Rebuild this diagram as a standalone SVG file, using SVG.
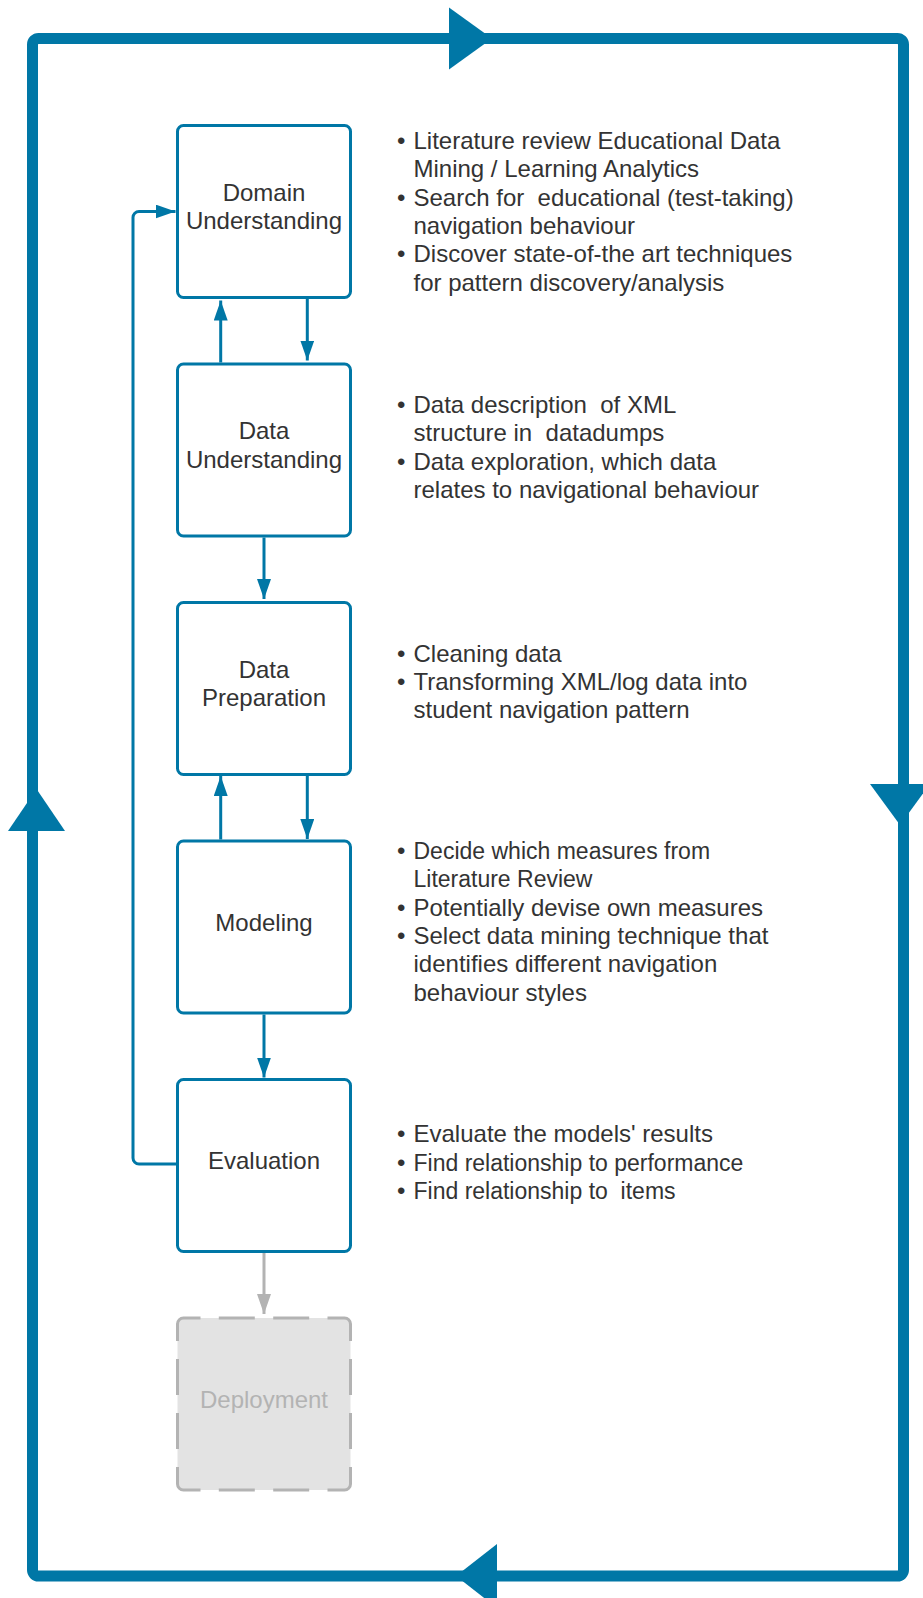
<svg xmlns="http://www.w3.org/2000/svg" width="923" height="1598" viewBox="0 0 923 1598">
<defs>
<style>
.frame{fill:none;stroke:#0077a6;stroke-width:11;}
.big{fill:#0077a6;}
.box{fill:#ffffff;stroke:#0077a6;stroke-width:3;}
.lbl{font-family:"Liberation Sans",Arial,sans-serif;font-size:24px;fill:#333333;text-anchor:middle;}
.bul{font-family:"Liberation Sans",Arial,sans-serif;font-size:24px;fill:#333333;}
.sm{font-size:23px;}
.con{fill:none;stroke:#0077a6;stroke-width:3;}
.gcon{fill:none;stroke:#b3b3b3;stroke-width:3;}
.dep{fill:#e3e3e3;stroke:none;}
.dash{fill:none;stroke:#b3b3b3;stroke-width:3;}
.dlbl{font-family:"Liberation Sans",Arial,sans-serif;font-size:24px;fill:#b3b3b3;text-anchor:middle;}
</style>
<marker id="ah" markerUnits="userSpaceOnUse" markerWidth="20" markerHeight="14" refX="20" refY="7" orient="auto">
<path d="M0,0 L20,7 L0,14 z" fill="#0077a6"/>
</marker>
<marker id="ahg" markerUnits="userSpaceOnUse" markerWidth="20" markerHeight="14" refX="20" refY="7" orient="auto">
<path d="M0,0 L20,7 L0,14 z" fill="#b3b3b3"/>
</marker>
</defs>
<rect width="923" height="1598" fill="#ffffff"/>

<g id="cycle">
<rect class="frame" x="32.5" y="38.5" width="871" height="1537.5" rx="6"/>
<polygon class="big" points="449,7.5 492,38.5 449,69.5"/>
<polygon class="big" points="870,784 930,784 900,825"/>
<polygon class="big" points="497,1544 456,1576 497,1608"/>
<polygon class="big" points="8,831 65,831 36.5,789"/>
</g>

<g id="connectors">
<path class="con" d="M307.3,299 V360.5" marker-end="url(#ah)"/>
<path class="con" d="M220.7,362.5 V300.5" marker-end="url(#ah)"/>
<path class="con" d="M264,537.5 V599" marker-end="url(#ah)"/>
<path class="con" d="M307.3,776 V839" marker-end="url(#ah)"/>
<path class="con" d="M220.7,839.5 V776" marker-end="url(#ah)"/>
<path class="con" d="M264,1014.5 V1077.5" marker-end="url(#ah)"/>
<path class="gcon" d="M264,1253 V1314" marker-end="url(#ahg)"/>
<path class="con" d="M176,1164 H139 A6,6 0 0 1 133,1158 V217.5 A6,6 0 0 1 139,211.5 H175.5" marker-end="url(#ah)"/>
</g>

<g id="domain">
<rect class="box" x="177.5" y="125.5" width="173" height="172" rx="6"/>
<text class="lbl" x="264" y="200.5">Domain</text>
<text class="lbl" x="264" y="229">Understanding</text>
</g>
<g id="data-understanding">
<rect class="box" x="177.5" y="364" width="173" height="172" rx="6"/>
<text class="lbl" x="264" y="439">Data</text>
<text class="lbl" x="264" y="467.5">Understanding</text>
</g>
<g id="data-preparation">
<rect class="box" x="177.5" y="602.5" width="173" height="172" rx="6"/>
<text class="lbl" x="264" y="677.5">Data</text>
<text class="lbl" x="264" y="706">Preparation</text>
</g>
<g id="modeling">
<rect class="box" x="177.5" y="841" width="173" height="172" rx="6"/>
<text class="lbl" x="264" y="930.5">Modeling</text>
</g>
<g id="evaluation">
<rect class="box" x="177.5" y="1079.5" width="173" height="172" rx="6"/>
<text class="lbl" x="264" y="1169">Evaluation</text>
</g>
<g id="deployment">
<rect class="dep" x="177.5" y="1318" width="173" height="172" rx="6"/>
<path class="dash" d="M177.5,1341 V1324 A6,6 0 0 1 183.5,1318 H200.5 M218.8,1318 H254.8 M273.2,1318 H309.2 M327.5,1318 H344.5 A6,6 0 0 1 350.5,1324 V1341 M350.5,1359 V1395 M350.5,1413 V1449 M350.5,1467 V1484 A6,6 0 0 1 344.5,1490 H327.5 M309.2,1490 H273.2 M254.8,1490 H218.8 M200.5,1490 H183.5 A6,6 0 0 1 177.5,1484 V1467 M177.5,1449 V1413 M177.5,1395 V1359"/>
<text class="dlbl" x="264" y="1407.5">Deployment</text>
</g>

<g id="notes-domain">
<text class="bul" x="397" y="149">•</text>
<text class="bul" x="413.5" y="149">Literature review Educational Data</text>
<text class="bul" x="413.5" y="177.3">Mining / Learning Analytics</text>
<text class="bul" x="397" y="205.6">•</text>
<text class="bul" x="413.5" y="205.6" xml:space="preserve">Search for  educational (test-taking)</text>
<text class="bul" x="413.5" y="233.9">navigation behaviour</text>
<text class="bul" x="397" y="262.2">•</text>
<text class="bul" x="413.5" y="262.2">Discover state-of-the art techniques</text>
<text class="bul" x="413.5" y="290.5">for pattern discovery/analysis</text>
</g>
<g id="notes-data-understanding">
<text class="bul" x="397" y="412.9">•</text>
<text class="bul" x="413.5" y="412.9" xml:space="preserve">Data description  of XML</text>
<text class="bul" x="413.5" y="441.2" xml:space="preserve">structure in  datadumps</text>
<text class="bul" x="397" y="469.5">•</text>
<text class="bul" x="413.5" y="469.5">Data exploration, which data</text>
<text class="bul" x="413.5" y="497.8">relates to navigational behaviour</text>
</g>
<g id="notes-data-preparation">
<text class="bul" x="397" y="661.5">•</text>
<text class="bul" x="413.5" y="661.5">Cleaning data</text>
<text class="bul" x="397" y="689.8">•</text>
<text class="bul" x="413.5" y="689.8">Transforming XML/log data into</text>
<text class="bul" x="413.5" y="718.1">student navigation pattern</text>
</g>
<g id="notes-modeling">
<text class="bul" x="397" y="859.1">•</text>
<text class="bul sm" x="413.5" y="859.1">Decide which measures from</text>
<text class="bul sm" x="413.5" y="887.4">Literature Review</text>
<text class="bul" x="397" y="915.7">•</text>
<text class="bul" x="413.5" y="915.7">Potentially devise own measures</text>
<text class="bul" x="397" y="944">•</text>
<text class="bul" x="413.5" y="944">Select data mining technique that</text>
<text class="bul" x="413.5" y="972.3">identifies different navigation</text>
<text class="bul" x="413.5" y="1000.6">behaviour styles</text>
</g>
<g id="notes-evaluation">
<text class="bul" x="397" y="1142.3">•</text>
<text class="bul" x="413.5" y="1142.3">Evaluate the models' results</text>
<text class="bul" x="397" y="1170.6">•</text>
<text class="bul sm" x="413.5" y="1170.6">Find relationship to performance</text>
<text class="bul" x="397" y="1198.9">•</text>
<text class="bul sm" x="413.5" y="1198.9" xml:space="preserve">Find relationship to  items</text>
</g>
</svg>
